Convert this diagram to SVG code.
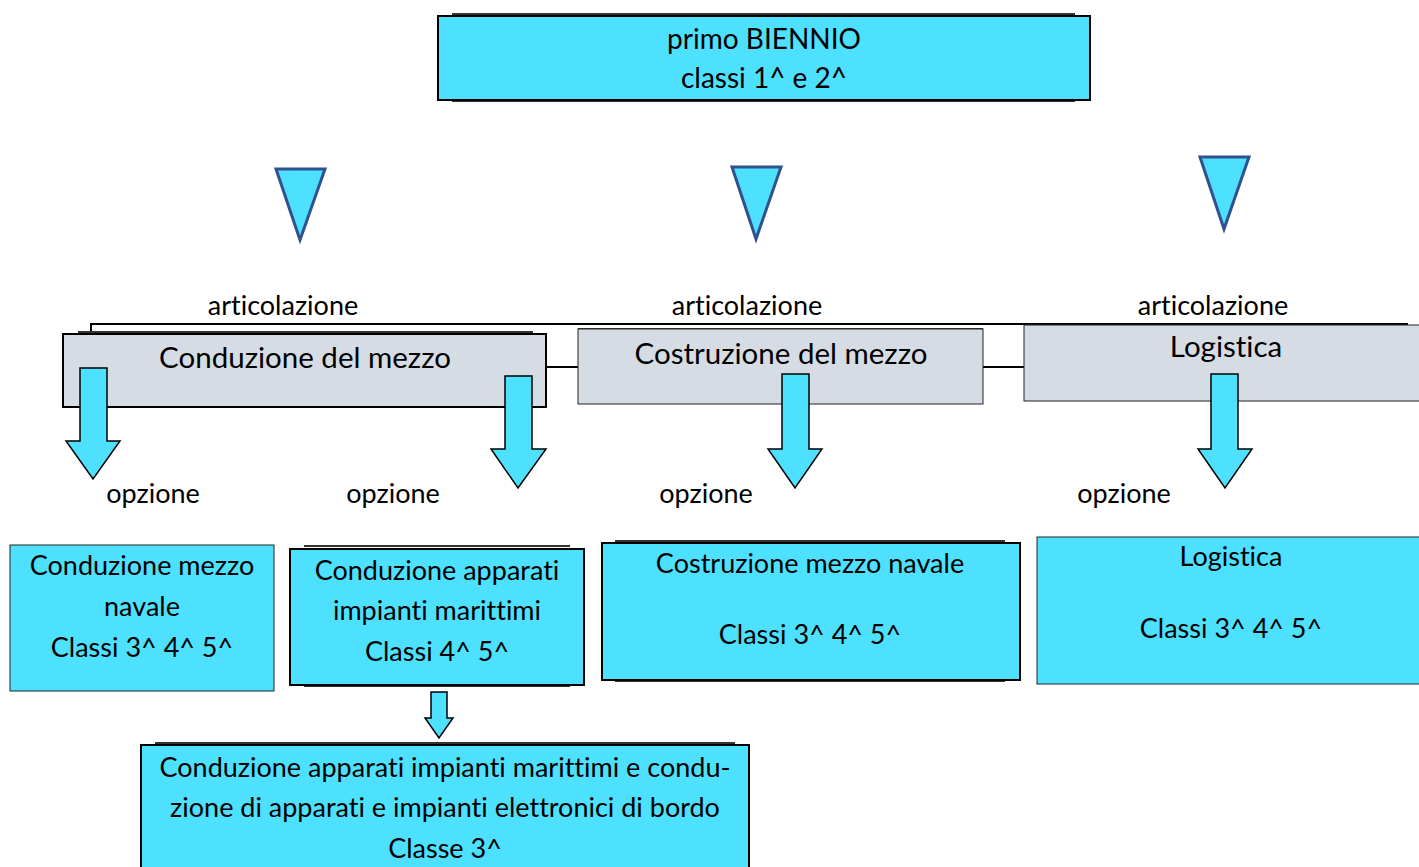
<svg xmlns="http://www.w3.org/2000/svg" width="1419" height="867" viewBox="0 0 1419 867">
<style>
text{font-family:Lato,"Open Sans","Liberation Sans",sans-serif;fill:#000;text-anchor:middle;font-variant-ligatures:none}
.b{font-size:28px}
.t{font-size:29.5px}
.s{font-size:27px}
.cy{fill:#4DE0FF}
.gr{fill:#D6DCE4}
.bk{stroke:#000;stroke-width:2}
.th{stroke:#222;stroke-width:1}
.edge{stroke:#333;stroke-width:2;fill:none}
.tri{fill:#4DE0FF;stroke:#2F528F;stroke-width:3;stroke-linejoin:miter}
.arr{fill:#4DE0FF;stroke:#000;stroke-width:1.5}
.ln{stroke:#000;stroke-width:2;fill:none}
</style>
<rect width="1419" height="867" fill="#fff"/>

<g id="biennio">
<line class="edge" x1="452" y1="14" x2="1075" y2="14"/>
<line class="edge" x1="452" y1="101" x2="1075" y2="101"/>
<rect class="cy bk" x="438" y="16" width="652" height="84"/>
<text class="b" x="764" y="49">primo BIENNIO</text>
<text class="b" x="764" y="88">classi 1^ e 2^</text>
</g>

<g id="connectors">
<polygon class="tri" points="276,169 325,169 300,240"/>
<polygon class="tri" points="732,167 781,167 756,239"/>
<polygon class="tri" points="1200,157 1249,157 1224,229"/>
<polyline class="ln" points="91,333 91,324 1408,324"/>
<line class="ln" x1="546" y1="367" x2="578" y2="367"/>
<line class="ln" x1="983" y1="367" x2="1024" y2="367"/>
</g>

<g id="label-articolazione">
<text class="s" x="283" y="315">articolazione</text>
<text class="s" x="747" y="315">articolazione</text>
<text class="s" x="1213" y="315">articolazione</text>
</g>

<g id="conduzione-mezzo">
<line class="edge" x1="78" y1="332" x2="533" y2="332"/>
<rect class="gr bk" x="63" y="334" width="483" height="73"/>
<text class="t" x="305" y="368">Conduzione del mezzo</text>
</g>

<g id="costruzione-mezzo">
<line class="edge" x1="578" y1="329" x2="983" y2="329" stroke-width="3"/>
<rect class="gr th" x="578" y="329" width="405" height="75"/>
<text class="t" x="781" y="364">Costruzione del mezzo</text>
</g>

<g id="logistica">
<rect class="gr th" x="1024" y="325" width="400" height="76"/>
<text class="t" x="1226" y="357">Logistica</text>
</g>

<g id="arrows">
<polygon class="arr" points="80,368 107,368 107,441 120,441 93,479 66,441 80,441"/>
<polygon class="arr" points="505,376 532,376 532,449 546,449 518,488 491,449 505,449"/>
<polygon class="arr" points="782,374 809,374 809,449 822,449 795,488 768,449 782,449"/>
<polygon class="arr" points="1211,374 1238,374 1238,449 1252,449 1225,488 1198,449 1211,449"/>
<polygon class="arr" points="431,692 447,692 447,718 453,718 439,738 425,718 431,718"/>
</g>

<g id="label-opzione">
<text class="s" x="153" y="503">opzione</text>
<text class="s" x="393" y="503">opzione</text>
<text class="s" x="706" y="503">opzione</text>
<text class="s" x="1124" y="503">opzione</text>
</g>

<g id="opt-conduzione-navale">
<rect class="cy th" x="10" y="545" width="264" height="146"/>
<text class="s" x="142" y="575">Conduzione mezzo</text>
<text class="s" x="142" y="616">navale</text>
<text class="s" x="142" y="657">Classi 3^ 4^ 5^</text>
</g>

<g id="opt-conduzione-apparati">
<line class="edge" x1="304" y1="546" x2="570" y2="546"/>
<line class="edge" x1="304" y1="686" x2="570" y2="686"/>
<rect class="cy bk" x="290" y="549" width="294" height="136"/>
<text class="s" x="437" y="580">Conduzione apparati</text>
<text class="s" x="437" y="620">impianti marittimi</text>
<text class="s" x="437" y="661">Classi 4^ 5^</text>
</g>

<g id="opt-costruzione-navale">
<line class="edge" x1="615" y1="541" x2="1005" y2="541"/>
<line class="edge" x1="615" y1="681" x2="1005" y2="681"/>
<rect class="cy bk" x="602" y="543" width="418" height="137"/>
<text class="s" x="810" y="573">Costruzione mezzo navale</text>
<text class="s" x="810" y="644">Classi 3^ 4^ 5^</text>
</g>

<g id="opt-logistica">
<rect class="cy th" x="1037" y="537" width="390" height="147"/>
<text class="s" x="1231" y="566">Logistica</text>
<text class="s" x="1231" y="638">Classi 3^ 4^ 5^</text>
</g>

<g id="opt-elettronici">
<line class="edge" x1="155" y1="743" x2="735" y2="743"/>
<rect class="cy bk" x="141" y="745" width="608" height="130"/>
<text class="s" x="445" y="777">Conduzione apparati impianti marittimi e condu-</text>
<text class="s" x="445" y="817">zione di apparati e impianti elettronici di bordo</text>
<text class="s" x="445" y="858">Classe 3^</text>
</g>
</svg>
